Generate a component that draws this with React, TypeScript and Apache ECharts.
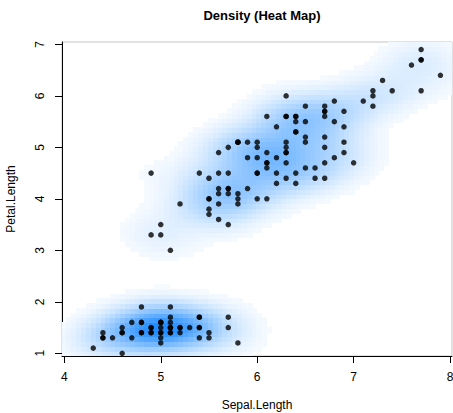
import React, { useEffect, useRef } from "react";
import * as echarts from "echarts";

// Iris measurements: Sepal.Length and Petal.Length (setosa, versicolor, virginica)
const sepalLength: number[] = [
  5.1, 4.9, 4.7, 4.6, 5.0, 5.4, 4.6, 5.0, 4.4, 4.9, 5.4, 4.8, 4.8, 4.3, 5.8, 5.7, 5.4, 5.1, 5.7, 5.1,
  5.4, 5.1, 4.6, 5.1, 4.8, 5.0, 5.0, 5.2, 5.2, 4.7, 4.8, 5.4, 5.2, 5.5, 4.9, 5.0, 5.5, 4.9, 4.4, 5.1,
  5.0, 4.5, 4.4, 5.0, 5.1, 4.8, 5.1, 4.6, 5.3, 5.0,
  7.0, 6.4, 6.9, 5.5, 6.5, 5.7, 6.3, 4.9, 6.6, 5.2, 5.0, 5.9, 6.0, 6.1, 5.6, 6.7, 5.6, 5.8, 6.2, 5.6,
  5.9, 6.1, 6.3, 6.1, 6.4, 6.6, 6.8, 6.7, 6.0, 5.7, 5.5, 5.5, 5.8, 6.0, 5.4, 6.0, 6.7, 6.3, 5.6, 5.5,
  5.5, 6.1, 5.8, 5.0, 5.6, 5.7, 5.7, 6.2, 5.1, 5.7,
  6.3, 5.8, 7.1, 6.3, 6.5, 7.6, 4.9, 7.3, 6.7, 7.2, 6.5, 6.4, 6.8, 5.7, 5.8, 6.4, 6.5, 7.7, 7.7, 6.0,
  6.9, 5.6, 7.7, 6.3, 6.7, 7.2, 6.2, 6.1, 6.4, 7.2, 7.4, 7.9, 6.4, 6.3, 6.1, 7.7, 6.3, 6.4, 6.0, 6.9,
  6.7, 6.9, 5.8, 6.8, 6.7, 6.7, 6.3, 6.5, 6.2, 5.9,
];
const petalLength: number[] = [
  1.4, 1.4, 1.3, 1.5, 1.4, 1.7, 1.4, 1.5, 1.4, 1.5, 1.5, 1.6, 1.4, 1.1, 1.2, 1.5, 1.3, 1.4, 1.7, 1.5,
  1.7, 1.5, 1.0, 1.7, 1.9, 1.6, 1.6, 1.5, 1.4, 1.6, 1.6, 1.5, 1.5, 1.4, 1.5, 1.2, 1.3, 1.4, 1.3, 1.5,
  1.3, 1.3, 1.3, 1.6, 1.9, 1.4, 1.6, 1.4, 1.5, 1.4,
  4.7, 4.5, 4.9, 4.0, 4.6, 4.5, 4.7, 3.3, 4.6, 3.9, 3.5, 4.2, 4.0, 4.7, 3.6, 4.4, 4.5, 4.1, 4.5, 3.9,
  4.8, 4.0, 4.9, 4.7, 4.3, 4.4, 4.8, 5.0, 4.5, 3.5, 3.8, 3.7, 3.9, 5.1, 4.5, 4.5, 4.7, 4.4, 4.1, 4.0,
  4.4, 4.6, 4.0, 3.3, 4.2, 4.2, 4.2, 4.3, 3.0, 4.1,
  6.0, 5.1, 5.9, 5.6, 5.8, 6.6, 4.5, 6.3, 5.8, 6.1, 5.1, 5.3, 5.5, 5.0, 5.1, 5.3, 5.5, 6.7, 6.9, 5.0,
  5.7, 4.9, 6.7, 4.9, 5.7, 6.0, 4.8, 4.9, 5.6, 5.8, 6.1, 6.4, 5.6, 5.1, 5.6, 6.1, 5.6, 5.5, 4.8, 5.4,
  5.6, 5.1, 5.1, 5.9, 5.7, 5.2, 5.0, 5.2, 5.4, 5.1,
];

const xTicks: number[] = [4, 5, 6, 7, 8];
const yTicks: number[] = [1, 2, 3, 4, 5, 6, 7];

const X_RANGE: [number, number] = [3.976, 8.02];
const Y_RANGE: [number, number] = [0.947, 7.047];
const NBIN_X = 80;
const NBIN_Y = 66;
const BW_X = 0.28;
const BW_Y = 0.27;
const FLOOR = 0.04;

// Gaussian kernel density on a regular grid, shaded from white to blue
function densityCells() {
  const dx = (X_RANGE[1] - X_RANGE[0]) / NBIN_X;
  const dy = (Y_RANGE[1] - Y_RANGE[0]) / NBIN_Y;
  const dens: number[] = [];
  let max = 0;
  for (let j = 0; j < NBIN_Y; j++) {
    const cy = Y_RANGE[0] + (j + 0.5) * dy;
    for (let i = 0; i < NBIN_X; i++) {
      const cx = X_RANGE[0] + (i + 0.5) * dx;
      let s = 0;
      for (let k = 0; k < sepalLength.length; k++) {
        const u = (cx - sepalLength[k]) / BW_X;
        const v = (cy - petalLength[k]) / BW_Y;
        const e = 0.5 * (u * u + v * v);
        if (e < 30) s += Math.exp(-e);
      }
      dens.push(s);
      if (s > max) max = s;
    }
  }
  const cells: number[][] = [];
  const colors: string[] = [];
  const end = [28, 138, 255];
  for (let j = 0; j < NBIN_Y; j++) {
    for (let i = 0; i < NBIN_X; i++) {
      const f = Math.floor((dens[j * NBIN_X + i] / max) * 255) / 255;
      if (f < FLOOR) continue;
      const r = Math.round(255 + (end[0] - 255) * f);
      const g = Math.round(255 + (end[1] - 255) * f);
      const b = Math.round(255 + (end[2] - 255) * f);
      cells.push([
        X_RANGE[0] + i * dx,
        Y_RANGE[0] + j * dy,
        X_RANGE[0] + (i + 1) * dx,
        Y_RANGE[0] + (j + 1) * dy,
      ]);
      colors.push(`rgb(${r},${g},${b})`);
    }
  }
  return { cells, colors };
}

const FONT = "'Liberation Sans', Arial, Helvetica, sans-serif";

export default function App() {
  const ref = useRef<HTMLDivElement>(null);

  useEffect(() => {
    if (!ref.current) return;
    const chart = echarts.init(ref.current, undefined, { renderer: "svg" });
    const { cells, colors } = densityCells();
    const points = sepalLength.map((x, i) => [x, petalLength[i]]);

    chart.setOption({
      animation: false,
      backgroundColor: "#ffffff",
      textStyle: { fontFamily: FONT },
      title: {
        text: "Density (Heat Map)",
        left: 257,
        top: 4,
        textAlign: "center",
        textStyle: { fontFamily: FONT, fontSize: 13, fontWeight: "bold", color: "#000" },
      },
      grid: {
        left: 62,
        right: 1,
        top: 42,
        bottom: 57,
        containLabel: false,
        outerBoundsMode: "none",
        show: true,
        borderColor: "#c4c4c4",
        borderWidth: 1,
        backgroundColor: "transparent",
      },
      xAxis: {
        type: "value",
        min: X_RANGE[0],
        max: X_RANGE[1],
        name: "Sepal.Length",
        nameLocation: "middle",
        nameGap: 43,
        nameTextStyle: { fontFamily: FONT, fontSize: 12, color: "#000" },
        splitLine: { show: false },
        axisLine: { show: true, lineStyle: { color: "#000", width: 1 } },
        axisTick: { show: true, length: 7, lineStyle: { color: "#000" }, customValues: xTicks },
        axisLabel: {
          customValues: xTicks,
          margin: 15,
          fontFamily: FONT,
          fontSize: 12,
          color: "#000",
        },
      },
      yAxis: {
        type: "value",
        min: Y_RANGE[0],
        max: Y_RANGE[1],
        name: "Petal.Length",
        nameLocation: "middle",
        nameGap: 45,
        nameRotate: 90,
        nameTextStyle: { fontFamily: FONT, fontSize: 12, color: "#000" },
        splitLine: { show: false },
        axisLine: { show: true, lineStyle: { color: "#000", width: 1 } },
        axisTick: { show: true, length: 7, lineStyle: { color: "#000" }, customValues: yTicks },
        axisLabel: {
          customValues: yTicks,
          rotate: 90,
          margin: 16,
          fontFamily: FONT,
          fontSize: 12,
          color: "#000",
        },
      },
      series: [
        {
          type: "custom",
          data: cells,
          encode: { x: [0, 2], y: [1, 3] },
          clip: true,
          silent: true,
          renderItem: (params: any, api: any) => {
            const p0 = api.coord([api.value(0), api.value(3)]);
            const p1 = api.coord([api.value(2), api.value(1)]);
            const x = Math.floor(p0[0]);
            const y = Math.floor(p0[1]);
            return {
              type: "rect",
              shape: { x, y, width: Math.ceil(p1[0]) - x, height: Math.ceil(p1[1]) - y },
              style: { fill: colors[params.dataIndex] },
            };
          },
          z: 1,
        },
        {
          type: "scatter",
          data: points,
          symbol: "circle",
          symbolSize: 5.5,
          itemStyle: { color: "#000" },
          silent: true,
          z: 3,
        },
      ],
    });

    return () => chart.dispose();
  }, []);

  return (
    <div
      ref={ref}
      style={{ position: "fixed", left: 0, top: 0, width: 453, height: 413 }}
    />
  );
}
